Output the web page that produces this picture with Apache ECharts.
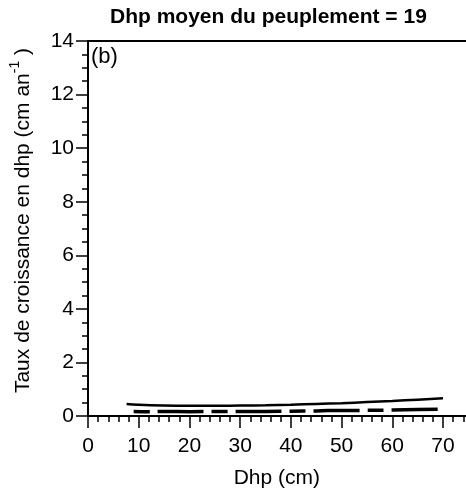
<!DOCTYPE html>
<html>
<head>
<meta charset="utf-8">
<script src="https://cdn.jsdelivr.net/npm/echarts@6/dist/echarts.min.js"></script>
<style>
  html, body { margin: 0; padding: 0; background: #fff; overflow: hidden; width: 466px; height: 494px; }
  #chart { width: 520px; height: 494px; }
</style>
</head>
<body>
<div id="chart"></div>
<script>
// Predicted diameter growth (cm/yr) against tree diameter, stand mean DBH = 19
const dbhSolid = [7.6, 10, 15, 20, 25, 30, 35, 40, 45, 50, 55, 60, 65, 70];
const growthSolid = [0.45, 0.42, 0.39, 0.38, 0.38, 0.39, 0.40, 0.42, 0.45, 0.48, 0.52, 0.56, 0.61, 0.66];

const dbhDashed = [9, 12, 15, 20, 25, 30, 35, 40, 45, 50, 55, 60, 65, 70];
const growthDashed = [0.17, 0.16, 0.17, 0.16, 0.17, 0.17, 0.17, 0.18, 0.19, 0.21, 0.21, 0.22, 0.24, 0.25];

const titleText = 'Dhp moyen du peuplement = 19';
const panelText = '(b)';
const xName = 'Dhp (cm)';

const pairs = (xs, ys) => xs.map((x, i) => [x, ys[i]]);

const FONT = 'Liberation Sans, Arial, sans-serif';
const chart = echarts.init(document.getElementById('chart'), null, { renderer: 'canvas' });

// The frame runs past the right edge of the visible page (x scale ends beyond 74 cm)
chart.setOption({
  backgroundColor: '#fff',
  animation: false,
  graphic: [
    {
      type: 'text', left: 110, top: 7,
      style: { text: titleText, font: 'bold 21px ' + FONT, fill: '#000' }
    },
    {
      type: 'text', left: 91, top: 46,
      style: { text: panelText, font: '22px ' + FONT, fill: '#000' }
    }
  ],
  grid: { left: 88, top: 41, width: 405.7, bottom: 76, containLabel: false },
  xAxis: [{
    type: 'value', min: 0, max: 80, interval: 10,
    name: xName, nameLocation: 'middle', nameGap: 52,
    nameTextStyle: { fontFamily: FONT, fontSize: 21, color: '#000', padding: [0, 28, 0, 0] },
    axisLine: { show: true, lineStyle: { color: '#000', width: 2 } },
    axisTick: { show: true, inside: false, length: 12, lineStyle: { color: '#000', width: 1.5 } },
    minorTick: { show: true, splitNumber: 5, length: 6, lineStyle: { color: '#000', width: 1.5 } },
    axisLabel: { fontFamily: FONT, fontSize: 21, color: '#000', margin: 20,
      formatter: v => (v <= 70 ? String(v) : '') },
    splitLine: { show: false }
  }, {
    type: 'value', min: 0, max: 80, position: 'top',
    axisLine: { show: true, onZero: false, lineStyle: { color: '#000', width: 2 } },
    axisTick: { show: false }, axisLabel: { show: false }, splitLine: { show: false }
  }],
  yAxis: {
    type: 'value', min: 0, max: 14, interval: 2,
    name: 'Taux de croissance en dhp (cm an{sup|-1} )',
    nameLocation: 'middle', nameGap: 50, nameRotate: 90,
    nameTextStyle: {
      fontFamily: FONT, fontSize: 21, color: '#000', padding: [0, 0, 0, 16],
      rich: { sup: { fontFamily: FONT, fontSize: 14, color: '#000', padding: [0, 0, 16, 0] } }
    },
    axisLine: { show: true, lineStyle: { color: '#000', width: 2 } },
    axisTick: { show: true, inside: false, length: 12, lineStyle: { color: '#000', width: 1.5 } },
    minorTick: { show: true, splitNumber: 4, length: 6, lineStyle: { color: '#000', width: 1.5 } },
    axisLabel: { fontFamily: FONT, fontSize: 21, color: '#000', margin: 14 },
    splitLine: { show: false }
  },
  series: [
    {
      type: 'line', data: pairs(dbhSolid, growthSolid),
      smooth: true, showSymbol: false, symbol: 'none',
      lineStyle: { color: '#000', width: 2.5 }
    },
    {
      type: 'line', data: pairs(dbhDashed, growthDashed),
      smooth: true, showSymbol: false, symbol: 'none',
      lineStyle: { color: '#000', width: 3.5, type: [16, 8, 46, 8] }
    }
  ]
});
</script>
</body>
</html>
